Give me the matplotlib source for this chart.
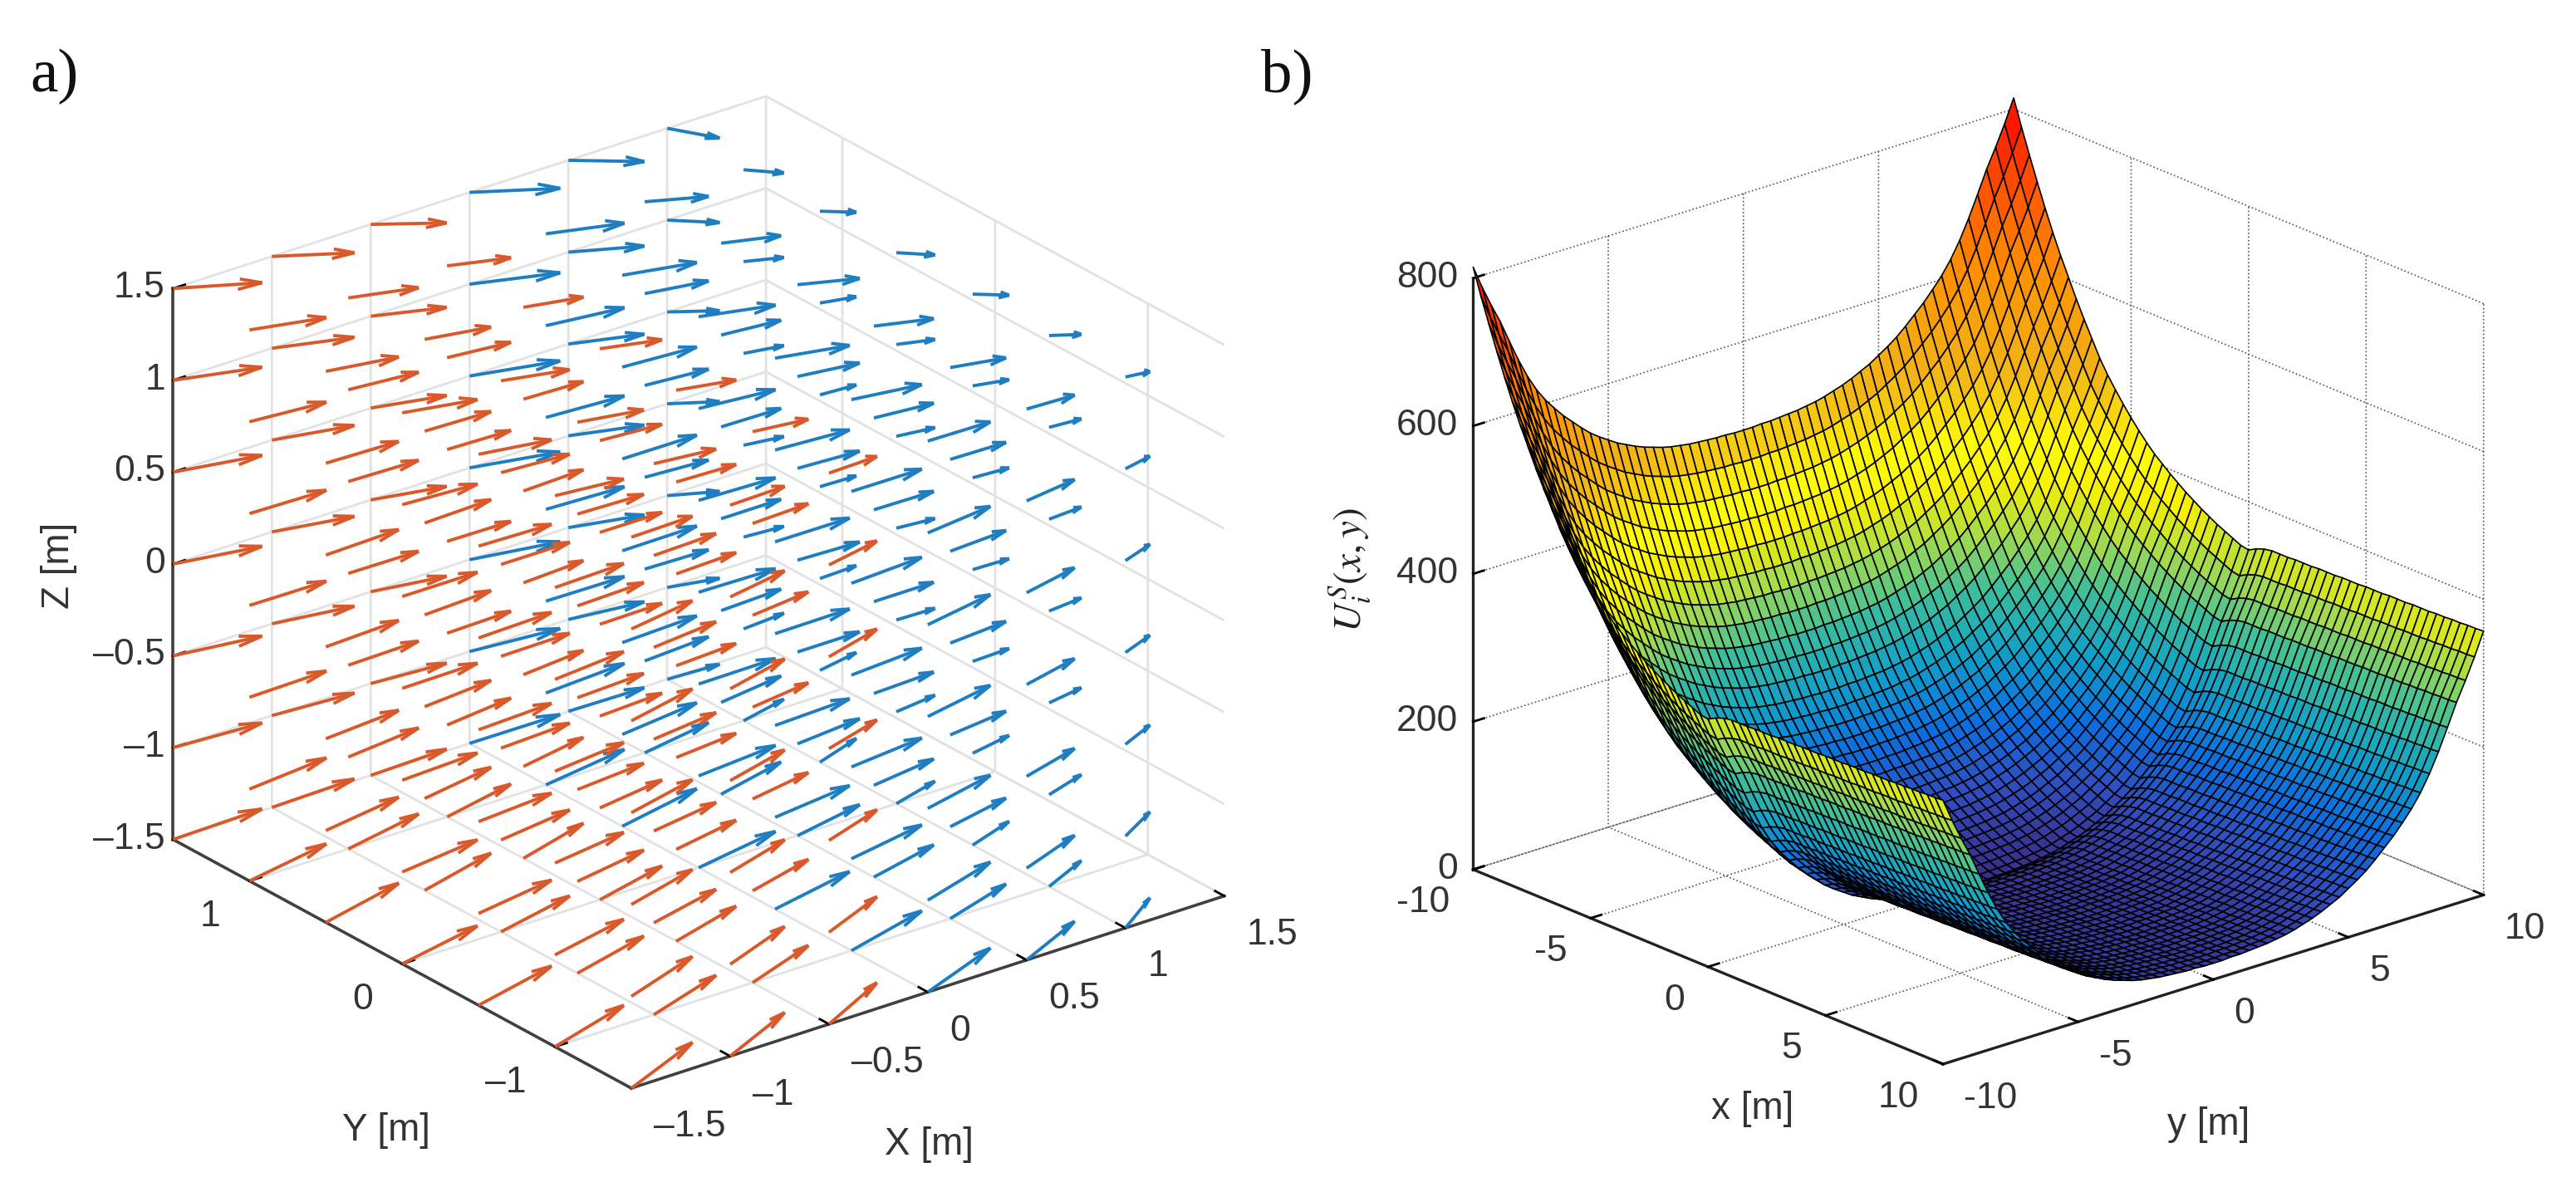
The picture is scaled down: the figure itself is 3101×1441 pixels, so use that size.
"""Two 3D panels: a) vector field, b) potential surface."""
import numpy as np
import matplotlib as mpl; mpl.use("Agg")
import matplotlib.pyplot as plt
from matplotlib.colors import LinearSegmentedColormap
from matplotlib.transforms import Affine2D
from mpl_toolkits.mplot3d import proj3d

mpl.rcParams.update({"font.family": ["Liberation Sans", "DejaVu Sans"], "mathtext.fontset": "stix"})

W_PX, H_PX = 3101, 1441

# --- panel a: arrow components read per grid plane
FIELD_X = [-1.5, -1.0, -0.5, 0.0, 0.5, 1.0]
FIELD_Y = [-1.5, -1.0, -0.5, 0.0, 0.5, 1.0, 1.5]
FIELD_Z = [-1.5, -1.0, -0.5, 0.0, 0.5, 1.0, 1.5]
U_BY_X = [0.381, 0.348, 0.315, 0.389, 0.315, 0.196]
V_BY_Y = [0.093, 0.042, 0.015, 0.0, 0.015, -0.011, -0.090]
W_BY_Z = [0.074, 0.042, 0.015, 0.004, -0.001, -0.021, -0.061]
W_BY_X = [0.0, 0.0, 0.0, -0.012, -0.015, -0.020]
A_XTICKS = [-1.5, -1, -0.5, 0, 0.5, 1, 1.5]
A_XLABELS = ["–1.5", "–1", "–0.5", "0", "0.5", "1", "1.5"]
A_YTICKS = [-1, 0, 1]
A_YLABELS = ["–1", "0", "1"]
A_ZTICKS = [-1.5, -1, -0.5, 0, 0.5, 1, 1.5]
A_ZLABELS = ["–1.5", "–1", "–0.5", "0", "0.5", "1", "1.5"]

# --- panel b: height profiles read along x and y (surface = profile_x + profile_y)
HEIGHT_X = [458, 423, 390, 358, 327, 298, 271, 246, 221, 198, 176, 154, 136, 120, 105, 91,
            78, 66, 55, 46, 37, 29, 21, 14, 7, 1, -5, -10, -15, -20, -22,
            -16, -12, -10, -10, -10, -9, -9, -9, -8, -8, -8, -7, -7, -7, -6, -6, -6, -5, -5, -5,
            -4, -4, -4, -3, -3, -2, -2, -1, -1, 0]
HEIGHT_Y = [357, 326, 298, 272, 242, 213, 187, 165, 147, 132, 118, 106, 94, 83, 74, 66,
            58, 52, 46, 41, 37, 33, 30, 28, 26, 25, 24, 23, 23, 22, 22,
            22, 23, 23, 24, 25, 26, 28, 30, 33, 37, 41, 46, 52, 58,
            66, 74, 83, 94, 106, 118, 132, 147, 165, 187, 213, 242, 272, 298, 326, 357]
B_TICKS = [-10, -5, 0, 5, 10]
B_LABELS = ["-10", "-5", "0", "5", "10"]
B_ZTICKS = [0, 200, 400, 600, 800]

ORANGE, BLUE = "#D9592A", "#1F7DC2"
SURF_CMAP = LinearSegmentedColormap.from_list("surf", [
    (0.00, "#3A2E8C"), (0.07, "#2F4FC0"), (0.14, "#0A6FE0"), (0.22, "#12A0C8"), (0.30, "#3DBE9A"),
    (0.37, "#A0DA50"), (0.44, "#F8F000"), (0.50, "#FFFF00"), (0.60, "#F2B418"), (0.75, "#FF9000"),
    (0.88, "#FF4A00"), (1.00, "#FF0000")])


def place(ax, data0, px0, data1, px1):
    # scale and move a square axes so two data corners land on given pixels
    side = 1000.0
    ax.set_position([0, 0, side / W_PX, side / H_PX])
    def to_px(p):
        u, v, _ = proj3d.proj_transform(*p, ax.get_proj())
        return ax.transData.transform((u, v))
    a, b = to_px(data0), to_px(data1)
    t0, t1 = np.array([px0[0], H_PX - px0[1]]), np.array([px1[0], H_PX - px1[1]])
    s = np.linalg.norm(t1 - t0) / np.linalg.norm(b - a)
    left, bottom = t0 - a * s
    ax.set_position([left / W_PX, bottom / H_PX, side * s / W_PX, side * s / H_PX])


def style_axes(ax, grid_color, grid_lw, grid_ls, line_color, line_lw):
    for axis in (ax.xaxis, ax.yaxis, ax.zaxis):
        axis.set_pane_color((1, 1, 1, 0))
        axis.pane.set_edgecolor("none")
        axis.line.set_color(line_color)
        axis.line.set_linewidth(line_lw)
        axis._axinfo["grid"].update(color=grid_color, linewidth=grid_lw, linestyle=grid_ls)
        axis._axinfo["tick"].update(color=line_color, linewidth={True: 2.0, False: 2.0}, inward_factor=0.0, outward_factor=0.25)
        axis.set_rotate_label(False)
    ax.patch.set_visible(False)


def align_ticks(axis, ha):
    for label in axis.get_ticklabels():
        label.set_ha(ha)
        label.set_va("center")


def shift_label(ax, axis, dx, dy):
    # Axis3D resets the label transform while drawing, so hook the getter
    offset = Affine2D().translate(dx, dy)
    axis.label.get_transform = lambda: ax.transData + offset


fig = plt.figure(figsize=(W_PX / 100, H_PX / 100), dpi=100, facecolor="white")

# --- a) quiver
ax = fig.add_subplot(121, projection="3d", proj_type="ortho", computed_zorder=False)
ax.view_init(elev=24.8, azim=-127.7)
ax.set_box_aspect((1, 1, 0.81))
ax.set_xlim(-1.5, 1.5, view_margin=0); ax.set_ylim(-1.5, 1.5, view_margin=0); ax.set_zlim(-1.5, 1.5, view_margin=0)
gx, gy, gz = np.meshgrid(FIELD_X, FIELD_Y, FIELD_Z, indexing="ij")
gu, gv, gw = np.meshgrid(U_BY_X, V_BY_Y, W_BY_Z, indexing="ij")
gw = gw + np.array(W_BY_X)[:, None, None]
neg = gx < 0
ax.quiver(gx[~neg], gy[~neg], gz[~neg], gu[~neg], gv[~neg], gw[~neg], color=BLUE, linewidth=2.8,
          arrow_length_ratio=0.27, zorder=3)
ax.quiver(gx[neg], gy[neg], gz[neg], gu[neg], gv[neg], gw[neg], color=ORANGE, linewidth=2.8,
          arrow_length_ratio=0.27, zorder=4)
ax.set_xticks(A_XTICKS, labels=A_XLABELS); ax.set_yticks(A_YTICKS, labels=A_YLABELS); ax.set_zticks(A_ZTICKS, labels=A_ZLABELS)
ax.tick_params(labelsize=32, labelcolor="#333333", pad=18)
ax.zaxis.set_tick_params(pad=-4)
ax.set_xlabel("X [m]", fontsize=33, color="#333333", labelpad=60)
ax.set_ylabel("Y [m]", fontsize=33, color="#333333", labelpad=60)
ax.set_zlabel("Z [m]", fontsize=33, color="#333333", rotation=90, labelpad=60)
style_axes(ax, "#E2E2E2", 2.0, "-", "#404040", 2.6)
ax.zaxis.set_ticks_position("upper"); ax.zaxis.set_label_position("upper")
align_ticks(ax.xaxis, "left"); align_ticks(ax.yaxis, "right"); align_ticks(ax.zaxis, "right")
shift_label(ax, ax.xaxis, -82, -38); shift_label(ax, ax.yaxis, 89, -65); shift_label(ax, ax.zaxis, 54, -12)
place(ax, (-1.5, -1.5, -1.5), (760, 1310), (1.5, 1.5, 1.5), (923, 116))

# --- b) surface
bx = fig.add_subplot(122, projection="3d", proj_type="ortho")
bx.view_init(elev=21.1, azim=-41.0)
bx.set_box_aspect((1, 1, 0.885))
bx.set_xlim(-10, 10, view_margin=0); bx.set_ylim(-10, 10, view_margin=0); bx.set_zlim(0, 800, view_margin=0)
xs = np.linspace(-10, 10, len(HEIGHT_X))
ys = np.linspace(-10, 10, len(HEIGHT_Y))
X, Y = np.meshgrid(xs, ys, indexing="ij")
Z = np.add.outer(HEIGHT_X, HEIGHT_Y).astype(float)
bx.plot_surface(X, Y, Z, rstride=1, cstride=1, cmap=SURF_CMAP, vmin=0, vmax=815, edgecolor="black",
                linewidth=1.2, shade=False, antialiased=True)
bx.set_xticks(B_TICKS, labels=B_LABELS); bx.set_yticks(B_TICKS, labels=B_LABELS); bx.set_zticks(B_ZTICKS)
bx.tick_params(labelsize=32, labelcolor="#333333", pad=15)
bx.zaxis.set_tick_params(pad=0)
bx.set_xlabel("x [m]", fontsize=33, color="#333333", labelpad=60)
bx.set_ylabel("y [m]", fontsize=33, color="#333333", labelpad=60)
bx.set_zlabel(r"$U_i^S(x,y)$", fontsize=34, color="#222222", rotation=90, labelpad=60)
style_axes(bx, "#555555", 1.2, ":", "#222222", 2.4)
bx.zaxis.set_ticks_position("lower"); bx.zaxis.set_label_position("lower")
align_ticks(bx.xaxis, "right"); align_ticks(bx.yaxis, "left"); align_ticks(bx.zaxis, "right")
shift_label(bx, bx.xaxis, 154, -30); shift_label(bx, bx.yaxis, -93, -28); shift_label(bx, bx.zaxis, 40, 0)
place(bx, (10, -10, 0), (2339, 1281), (-10, 10, 800), (2421, 131))

fig.text(36 / W_PX, 1 - 110 / H_PX, "a)", fontsize=54, family="Liberation Serif", color="#111111")
fig.text(1518 / W_PX, 1 - 110 / H_PX, "b)", fontsize=54, family="Liberation Serif", color="#111111")

fig.savefig("out.png", dpi=100)
